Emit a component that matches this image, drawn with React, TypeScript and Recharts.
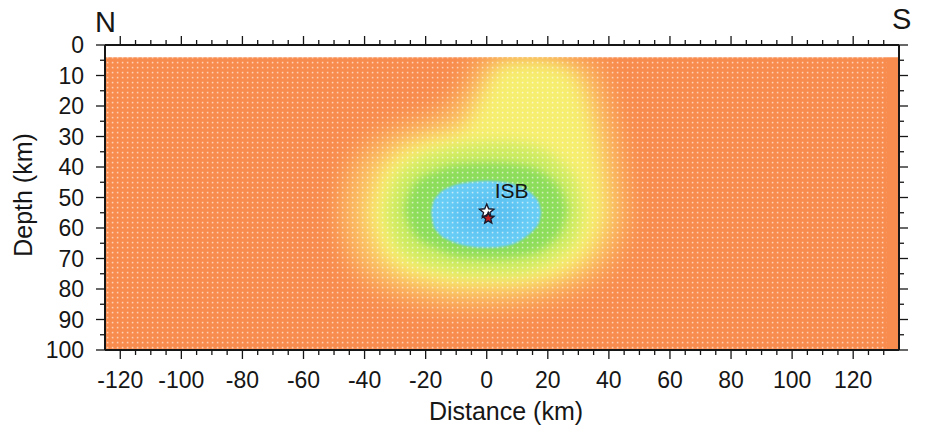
import React from 'react';
import { ComposedChart, Area, Scatter, XAxis, YAxis } from 'recharts';

const W = 928;
const H = 427;
const MARGIN = { top: 35, right: 17, bottom: 17, left: 35 };
const LEFT_AXIS_W = 70;
const RIGHT_AXIS_W = 12;
const TOP_AXIS_H = 10;
const BOTTOM_AXIS_H = 60;
const PLOT = {
  left: MARGIN.left + LEFT_AXIS_W,
  top: MARGIN.top + TOP_AXIS_H,
  right: W - MARGIN.right - RIGHT_AXIS_W,
  bottom: H - MARGIN.bottom - BOTTOM_AXIS_H,
};

const FONT = '"Liberation Sans", Arial, sans-serif';
const INK = '#161616';

// axes
const DIST_DOMAIN: [number, number] = [-125, 135];
const DEPTH_DOMAIN: [number, number] = [0, 100];
const DIST_LABELS = [-120, -100, -80, -60, -40, -20, 0, 20, 40, 60, 80, 100, 120];
const DEPTH_LABELS = [0, 10, 20, 30, 40, 50, 60, 70, 80, 90, 100];
const DIST_TICKS = Array.from({ length: 51 }, (_, i) => -120 + i * 5);
const DEPTH_TICKS = Array.from({ length: 21 }, (_, i) => i * 5);

// model extent (km)
const MODEL_DIST = [-125, 135];
const GRID_DIST = [-125, 131];
const MODEL_TOP = 4;
const MODEL_BOTTOM = 100;

// anomaly contours: distance and depth range (top, bottom) of each level
const HALO_X = [-48, -45, -38, -28, -15, -6, -2, 10, 25, 34, 40, 44, 46];
const HALO_TOP = [55, 42, 33, 27, 22, 12, 4, 4, 4, 6, 20, 38, 55];
const HALO_BOTTOM = [55, 68, 77, 82, 85, 86, 86, 85, 81, 77, 71, 63, 55];

const YELLOW_X = [-39, -36, -30, -20, -8, -1, 5, 15, 25, 31, 35, 37.5, 39];
const YELLOW_TOP = [55, 44, 36, 31, 27, 15, 6, 5, 7, 14, 28, 42, 55];
const YELLOW_BOTTOM = [55, 66, 73, 77, 79, 79, 79, 78, 75, 71, 66, 60, 55];

const LIME_X = [-33, -30, -24, -14, -4, 6, 16, 24, 29.5, 31.5];
const LIME_TOP = [55, 44.5, 38.5, 34.5, 32.5, 32, 33.5, 38.5, 45.5, 55];
const LIME_BOTTOM = [55, 64.5, 70, 73.5, 75, 75, 73, 68.5, 62.5, 55];

const GREEN_X = [-27, -24, -17, -8, 2, 12, 20, 24.5, 26.5];
const GREEN_TOP = [54, 46, 41.5, 39, 38.5, 39.5, 43, 48, 54];
const GREEN_BOTTOM = [54, 62, 66.5, 69.5, 70, 69, 65.5, 60.5, 54];

const CYAN_X = [-18.2, -17.5, -16, -12, -6, 0, 6, 12, 15.5, 17.2, 17.8];
const CYAN_TOP = [55, 51.5, 49.2, 46.5, 45, 44.5, 45, 47, 49.5, 52, 55];
const CYAN_BOTTOM = [55, 59, 61.5, 64.2, 66, 66.5, 66, 63.5, 60.5, 58, 55];

const CORE_X = [-12, -8, 0, 8, 12];
const CORE_TOP = [55, 50, 48.5, 50, 55];
const CORE_BOTTOM = [55, 61, 62.5, 61, 55];

// event location
const EVENTS = [
  { x: 0, y: 54.6, fill: '#ffffff', r: 7.5, name: 'ISB' },
  { x: 0.5, y: 56.8, fill: '#c41e1e', r: 6, name: '' },
];

const band = (xs: number[], tops: number[], bottoms: number[]) =>
  xs.map((x, i) => ({ x, band: [tops[i], bottoms[i]] }));

const modelData = band(MODEL_DIST, [MODEL_TOP, MODEL_TOP], [MODEL_BOTTOM, MODEL_BOTTOM]);
const gridData = band(GRID_DIST, [MODEL_TOP, MODEL_TOP], [MODEL_BOTTOM, MODEL_BOTTOM]);
const haloData = band(HALO_X, HALO_TOP, HALO_BOTTOM);
const yellowData = band(YELLOW_X, YELLOW_TOP, YELLOW_BOTTOM);
const limeData = band(LIME_X, LIME_TOP, LIME_BOTTOM);
const greenData = band(GREEN_X, GREEN_TOP, GREEN_BOTTOM);
const cyanData = band(CYAN_X, CYAN_TOP, CYAN_BOTTOM);
const coreData = band(CORE_X, CORE_TOP, CORE_BOTTOM);

const modelTopPx = PLOT.top + (MODEL_TOP / 100) * (PLOT.bottom - PLOT.top);

const BottomTick = (props: any) => {
  const { x, y, payload } = props;
  const major = DIST_LABELS.includes(payload.value);
  return (
    <g>
      <line x1={x} x2={x} y1={y} y2={y + (major ? 9 : 5)} stroke={INK} strokeWidth={1.3} />
      {major && (
        <text x={x} y={y + 37.5} textAnchor="middle" fontSize={23} fill={INK} fontFamily={FONT}>
          {payload.value}
        </text>
      )}
    </g>
  );
};

const TopTick = (props: any) => {
  const { x, y, payload } = props;
  const major = DIST_LABELS.includes(payload.value);
  return <line x1={x} x2={x} y1={y} y2={y - (major ? 9 : 5)} stroke={INK} strokeWidth={1.3} />;
};

const LeftTick = (props: any) => {
  const { x, y, payload } = props;
  const major = DEPTH_LABELS.includes(payload.value);
  return (
    <g>
      <line x1={x} x2={x - (major ? 9 : 5)} y1={y} y2={y} stroke={INK} strokeWidth={1.3} />
      {major && (
        <text x={x - 21} y={y + 8.2} textAnchor="end" fontSize={23} fill={INK} fontFamily={FONT}>
          {payload.value}
        </text>
      )}
    </g>
  );
};

const RightTick = (props: any) => {
  const { x, y, payload } = props;
  const major = DEPTH_LABELS.includes(payload.value);
  return <line x1={x} x2={x + (major ? 9 : 5)} y1={y} y2={y} stroke={INK} strokeWidth={1.3} />;
};

const starPoints = (cx: number, cy: number, r: number) => {
  const pts: string[] = [];
  for (let i = 0; i < 10; i++) {
    const a = -Math.PI / 2 + (i * Math.PI) / 5;
    const rr = i % 2 === 0 ? r : r * 0.45;
    pts.push(`${cx + rr * Math.cos(a)},${cy + rr * Math.sin(a)}`);
  }
  return pts.join(' ');
};

const EventStar = (props: any) => {
  const { cx, cy, payload } = props;
  return (
    <g>
      <polygon points={starPoints(cx, cy, payload.r)} fill={payload.fill} stroke="#1a1a2a" strokeWidth={1.4} />
      {payload.name && (
        <text x={cx + 8} y={cy - 14} fontSize={21} fill={INK} fontFamily={FONT}>
          {payload.name}
        </text>
      )}
    </g>
  );
};

const FIELD = {
  orange: '#f88c4e',
  halo: '#fbbe62',
  yellow: '#f6ee6e',
  lime: '#cbeb60',
  green: '#8cdd5a',
  cyan: '#68cdf5',
  core: '#56bcef',
};

const seriesProps = {
  dataKey: 'band',
  stroke: 'none',
  fillOpacity: 1,
  isAnimationActive: false,
  dot: false,
  activeDot: false,
} as const;

export default function App() {
  const region = {
    x: PLOT.left,
    y: modelTopPx,
    width: PLOT.right - PLOT.left,
    height: PLOT.bottom - modelTopPx,
  };
  return (
    <div style={{ position: 'absolute', left: 0, top: 0, width: W, height: H, background: '#fff' }}>
      <svg width={0} height={0} style={{ position: 'absolute' }}>
        <defs>
          {[
            ['soft12', 12],
            ['soft9', 9],
            ['soft7', 7],
            ['soft5', 5],
            ['soft1', 1.2],
          ].map(([id, sd]) => (
            <filter key={id} id={id as string} filterUnits="userSpaceOnUse" {...region}>
              <feGaussianBlur stdDeviation={sd as number} />
            </filter>
          ))}
          <pattern id="dots" width={5} height={5} patternUnits="userSpaceOnUse">
            <rect x={1.8} y={1.8} width={1.6} height={1.6} fill="#ffffff" fillOpacity={0.6} />
          </pattern>
        </defs>
      </svg>
      <style>{`
        .f12 path { filter: url(#soft12); }
        .f9 path { filter: url(#soft9); }
        .f7 path { filter: url(#soft7); }
        .f5 path { filter: url(#soft5); }
        .f1 path { filter: url(#soft1); }
      `}</style>
      <ComposedChart width={W} height={H} margin={MARGIN}>
        <XAxis
          dataKey="x"
          type="number"
          domain={DIST_DOMAIN}
          ticks={DIST_TICKS}
          interval={0}
          allowDataOverflow
          height={BOTTOM_AXIS_H}
          tickSize={0}
          tickMargin={0}
          tickLine={false}
          tick={<BottomTick />}
          axisLine={{ stroke: INK, strokeWidth: 2 }}
        />
        <XAxis
          xAxisId="top"
          orientation="top"
          dataKey="x"
          type="number"
          domain={DIST_DOMAIN}
          ticks={DIST_TICKS}
          interval={0}
          allowDataOverflow
          height={TOP_AXIS_H}
          tickSize={0}
          tickMargin={0}
          tickLine={false}
          tick={<TopTick />}
          axisLine={{ stroke: INK, strokeWidth: 2 }}
        />
        <YAxis
          type="number"
          reversed
          domain={DEPTH_DOMAIN}
          ticks={DEPTH_TICKS}
          interval={0}
          allowDataOverflow
          width={LEFT_AXIS_W}
          tickSize={0}
          tickMargin={0}
          tickLine={false}
          tick={<LeftTick />}
          axisLine={{ stroke: INK, strokeWidth: 2 }}
        />
        <YAxis
          yAxisId="right"
          orientation="right"
          type="number"
          reversed
          domain={DEPTH_DOMAIN}
          ticks={DEPTH_TICKS}
          interval={0}
          allowDataOverflow
          width={RIGHT_AXIS_W}
          tickSize={0}
          tickMargin={0}
          tickLine={false}
          tick={<RightTick />}
          axisLine={{ stroke: INK, strokeWidth: 2 }}
        />
        <Area {...seriesProps} data={modelData} type="linear" fill={FIELD.orange} />
        <Area {...seriesProps} data={haloData} type="monotone" className="f12" fill={FIELD.halo} />
        <Area {...seriesProps} data={yellowData} type="monotone" className="f9" fill={FIELD.yellow} />
        <Area {...seriesProps} data={limeData} type="monotone" className="f7" fill={FIELD.lime} />
        <Area {...seriesProps} data={greenData} type="monotone" className="f5" fill={FIELD.green} />
        <Area {...seriesProps} data={cyanData} type="monotone" className="f1" fill={FIELD.cyan} />
        <Area {...seriesProps} data={coreData} type="monotone" className="f7" fill={FIELD.core} fillOpacity={0.7} />
        <Area {...seriesProps} data={gridData} type="linear" fill="url(#dots)" />
        <Scatter data={EVENTS} dataKey="y" shape={<EventStar />} isAnimationActive={false} />
      </ComposedChart>
      <svg width={W} height={H} style={{ position: 'absolute', left: 0, top: 0, pointerEvents: 'none' }}>
        <g fontFamily={FONT} fill={INK}>
          <text x={95} y={32} fontSize={29}>N</text>
          <text x={892} y={29} fontSize={29}>S</text>
          <text x={506} y={420} fontSize={25} textAnchor="middle">Distance (km)</text>
          <text x={32} y={195} fontSize={25} textAnchor="middle" transform="rotate(-90 32 195)">
            Depth (km)
          </text>
        </g>
      </svg>
    </div>
  );
}
